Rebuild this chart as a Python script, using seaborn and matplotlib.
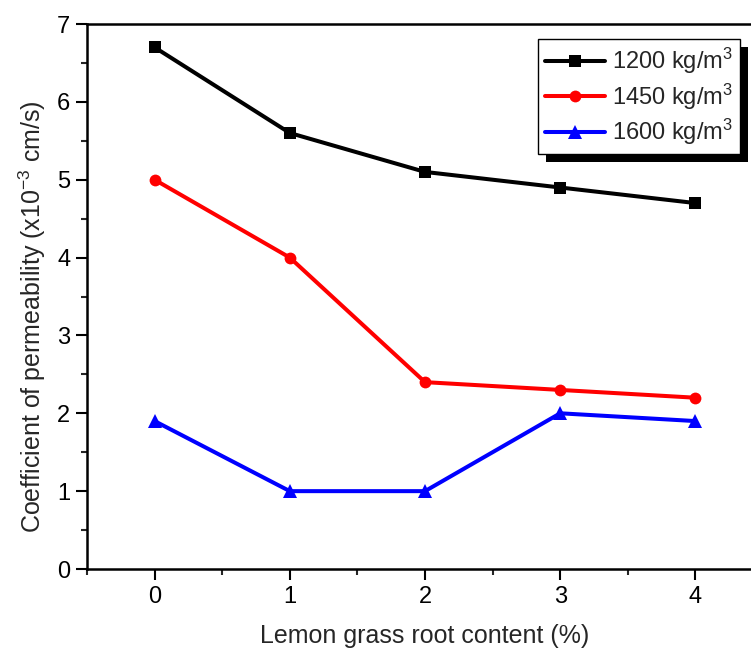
import matplotlib
matplotlib.use("Agg")
import matplotlib.pyplot as plt
import seaborn as sns
import pandas as pd
from matplotlib.ticker import MultipleLocator
from matplotlib.patches import Rectangle

content = [0, 1, 2, 3, 4]
d1200 = [6.7, 5.6, 5.1, 4.9, 4.7]
d1450 = [5.0, 4.0, 2.4, 2.3, 2.2]
d1600 = [1.9, 1.0, 1.0, 2.0, 1.9]
labels = ["1200 kg/m$^3$", "1450 kg/m$^3$", "1600 kg/m$^3$"]
colors = ["black", "red", "blue"]
markers = ["s", "o", "^"]

rows = []
for lab, vals in zip(labels, [d1200, d1450, d1600]):
    for x, v in zip(content, vals):
        rows.append({"x": x, "y": v, "series": lab})
df = pd.DataFrame(rows)

sns.set_style("ticks")
plt.rcParams["font.family"] = ["Liberation Sans", "DejaVu Sans"]
plt.rcParams["mathtext.fontset"] = "custom"
plt.rcParams["mathtext.rm"] = "Liberation Sans"
plt.rcParams["mathtext.it"] = "Liberation Sans"

fig = plt.figure(figsize=(7.51, 6.53), dpi=100)
ax = fig.add_axes([87/751, 1-569/653, 676/751, 545/653])

sns.lineplot(data=df, x="x", y="y", hue="series", style="series",
             palette=dict(zip(labels, colors)),
             markers=dict(zip(labels, markers)), dashes=False,
             linewidth=2.9, markersize=8.5, markeredgewidth=0,
             ax=ax)
for ln in ax.get_lines():
    if ln.get_marker() == "^":
        ln.set_markersize(10.5)

ax.set_xlim(-0.5, 4.5)
ax.set_ylim(0, 7)
ax.xaxis.set_major_locator(MultipleLocator(1))
ax.xaxis.set_minor_locator(MultipleLocator(0.5))
ax.yaxis.set_major_locator(MultipleLocator(1))
ax.yaxis.set_minor_locator(MultipleLocator(0.5))
ax.tick_params(which="major", direction="out", length=8, width=1.5, labelsize=17, colors="black", pad=4)
ax.tick_params(which="minor", direction="out", length=4.5, width=1.5)
for s in ax.spines.values():
    s.set_linewidth(1.8)
    s.set_color("black")
    s.set_visible(True)

ax.set_xlabel("Lemon grass root content (%)", fontsize=18, labelpad=12)
ax.set_ylabel("Coefficient of permeability (x10$^{-3}$ cm/s)", fontsize=18)
ax.yaxis.set_label_coords(-0.057, 1 - (317 - 24) / 545)

handles, labs = ax.get_legend_handles_labels()
leg = ax.legend(handles, labs, loc="upper left",
                bbox_to_anchor=((538-87)/676, (569-39)/545),
                fontsize=17, frameon=True, fancybox=False, shadow=False,
                edgecolor="black", framealpha=1, handlelength=2.55,
                borderpad=0.3, borderaxespad=0,
                labelspacing=0.22, handletextpad=0.3)
leg.get_frame().set_linewidth(1.0)
leg.set_zorder(6)

fig.canvas.draw()
bb = leg.get_window_extent()
off = 8
shadow = Rectangle((bb.x0 + off, bb.y0 - off), bb.width, bb.height,
                   transform=None, facecolor="black", edgecolor="none",
                   clip_on=False, zorder=5.5)
ax.add_artist(shadow)

fig.savefig("out.png", dpi=100)
